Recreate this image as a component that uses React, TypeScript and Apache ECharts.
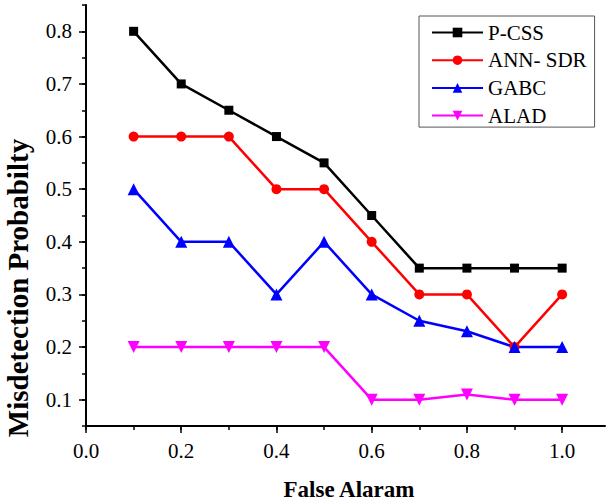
import React, { useEffect, useRef } from "react";
import * as echarts from "echarts";

const xValues = [0.1, 0.2, 0.3, 0.4, 0.5, 0.6, 0.7, 0.8, 0.9, 1.0];
const pcss = [0.8, 0.7, 0.65, 0.6, 0.55, 0.45, 0.35, 0.35, 0.35, 0.35];
const annSdr = [0.6, 0.6, 0.6, 0.5, 0.5, 0.4, 0.3, 0.3, 0.2, 0.3];
const gabc = [0.5, 0.4, 0.4, 0.3, 0.4, 0.3, 0.25, 0.23, 0.2, 0.2];
const alad = [0.2, 0.2, 0.2, 0.2, 0.2, 0.1, 0.1, 0.11, 0.1, 0.1];

const xMajorTicks = [0, 0.2, 0.4, 0.6, 0.8, 1.0];
const yMajorTicks = [0.1, 0.2, 0.3, 0.4, 0.5, 0.6, 0.7, 0.8];

const FONT = "Liberation Serif";

function isMultiple(v: number, step: number) {
  const r = Math.round(v / step);
  return Math.abs(r * step - v) < 1e-6;
}

export default function App() {
  const ref = useRef<HTMLDivElement>(null);
  useEffect(() => {
    if (!ref.current) return;
    const chart = echarts.init(ref.current, null, { renderer: "svg" });
    const gridPos = { left: 86, right: 2, top: 5, bottom: 76 };
    const mk = (name: string, vals: number[], color: string, symbol: string, size: number, rotate = 0) => ({
      name,
      type: "line",
      xAxisIndex: 0,
      yAxisIndex: 0,
      data: xValues.map((x, i) => [x, vals[i]]),
      symbol,
      symbolSize: size,
      symbolRotate: rotate,
      lineStyle: { color, width: 2.5 },
      itemStyle: { color },
      silent: true,
    });
    chart.setOption({
      animation: false,
      backgroundColor: "#fff",
      textStyle: { fontFamily: FONT },
      grid: [{ ...gridPos }, { ...gridPos }],
      xAxis: [
        {
          type: "value",
          gridIndex: 0,
          min: 0,
          max: 1.09,
          interval: 0.1,
          axisLine: { show: true, lineStyle: { color: "#000", width: 2 } },
          axisTick: { show: true, length: 4, lineStyle: { color: "#000", width: 1.5 } },
          axisLabel: {
            showMaxLabel: false,
            formatter: (v: number) => (isMultiple(v, 0.2) && v <= 1.0001 ? Number(v).toFixed(1) : ""),
            fontFamily: FONT,
            fontSize: 21,
            color: "#000",
            margin: 14,
          },
          splitLine: { show: false },
        },
        {
          type: "value",
          gridIndex: 1,
          min: 0,
          max: 1.09,
          axisLine: { show: false },
          axisTick: { show: true, customValues: xMajorTicks, length: 7, lineStyle: { color: "#000", width: 1.5 } },
          axisLabel: { show: false },
          splitLine: { show: false },
        },
      ],
      yAxis: [
        {
          type: "value",
          gridIndex: 0,
          min: 0.05,
          max: 0.85,
          interval: 0.05,
          axisLine: { show: true, lineStyle: { color: "#000", width: 2 } },
          axisTick: { show: true, length: 4, lineStyle: { color: "#000", width: 1.5 } },
          axisLabel: {
            formatter: (v: number) => (isMultiple(v, 0.1) ? Number(v).toFixed(1) : ""),
            fontFamily: FONT,
            fontSize: 21,
            color: "#000",
            margin: 14,
          },
          splitLine: { show: false },
        },
        {
          type: "value",
          gridIndex: 1,
          min: 0.05,
          max: 0.85,
          axisLine: { show: false },
          axisTick: { show: true, customValues: yMajorTicks, length: 7, lineStyle: { color: "#000", width: 1.5 } },
          axisLabel: { show: false },
          splitLine: { show: false },
        },
      ],
      legend: {
        left: 419,
        top: 16,
        orient: "vertical",
        padding: [6, 8, 1, 12],
        itemGap: 6.7,
        itemWidth: 51,
        itemHeight: 12,
        borderColor: "#555",
        borderWidth: 1,
        textStyle: { fontFamily: FONT, fontSize: 21, color: "#000" },
        data: ["P-CSS", "ANN- SDR", "GABC", "ALAD"],
      },
      graphic: [
        {
          type: "text",
          x: 18,
          y: 288,
          rotation: Math.PI / 2,
          style: {
            text: "Misdetection Probabilty",
            fontFamily: FONT,
            fontWeight: "bold",
            fontSize: 29,
            fill: "#000",
            align: "center",
            verticalAlign: "middle",
          },
        },
        {
          type: "text",
          x: 349,
          y: 489,
          style: {
            text: "False Alaram",
            fontFamily: FONT,
            fontWeight: "bold",
            fontSize: 23,
            fill: "#000",
            align: "center",
            verticalAlign: "middle",
          },
        },
      ],
      series: [
        mk("P-CSS", pcss, "#000000", "rect", 9),
        mk("ANN- SDR", annSdr, "#ff0000", "circle", 10),
        mk("GABC", gabc, "#0000ff", "triangle", 12),
        mk("ALAD", alad, "#ff00ff", "triangle", 12, 180),
      ],
    });
    return () => chart.dispose();
  }, []);
  return <div ref={ref} style={{ width: 607, height: 502, position: "absolute", left: 0, top: 0 }} />;
}
